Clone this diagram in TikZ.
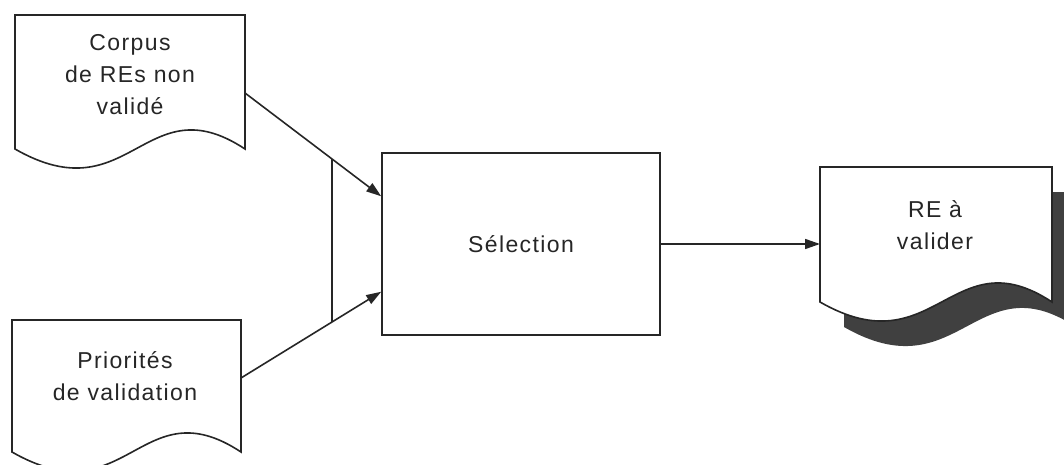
\documentclass[tikz,border=0pt]{standalone}
\usepackage{fontspec}
\newfontfamily\lsfont[LetterSpace=6]{Liberation Sans}
\usetikzlibrary{calc,arrows.meta}
\begin{document}
\begin{tikzpicture}[x=1pt,y=-1pt,
  line width=1.6pt,
  ink/.style={draw=black!85},
  docbox/.style={inner sep=0pt,outer sep=0pt,draw=none},
  doctext/.style={align=center,font=\lsfont\fontsize{23}{32}\selectfont,text=black!85,inner sep=0pt},
  docout/.style={insert path={(#1.north west) -- (#1.south west)
     .. controls ($(#1.south west)+(115,66)$) and ($(#1.south east)+(-100,-66)$) .. (#1.south east)
     -- (#1.north east) -- cycle}},
  flow/.style={ink,-{Triangle[length=15pt,width=10pt]}},
  procbox/.style={ink,minimum width=278pt,minimum height=182pt,inner sep=0pt,
     font=\lsfont\fontsize{23}{32}\selectfont,text=black!85}]
\useasboundingbox (0,0) rectangle (1064,465);
\clip (0,0) rectangle (1064,465);
% document boxes
\node[docbox,minimum width=230pt,minimum height=134pt] (d1) at (130,82) {};
\node[docbox,minimum width=229pt,minimum height=132pt] (d2) at (126.5,386) {};
\node[docbox,minimum width=232pt,minimum height=135pt] (d3) at (936,234.5) {};
\node[docbox,minimum width=232pt,minimum height=135pt] (d3s) at (960,259.5) {};
% shadow
\fill[black!75][docout=d3s];
\draw[ink,fill=white][docout=d1];
\draw[ink,fill=white][docout=d2];
\draw[ink,fill=white][docout=d3];
\node[doctext] (t1) at (130,75) {Corpus\\de REs non\\validé};
\node[doctext] (t2) at (125,376) {Priorités\\de validation};
\node[doctext] (t3) at (935,225) {RE à\\valider};
% process
\node[procbox] (sel) at (521,244) {Sélection};
% connectors
\coordinate (s1) at ($(d1.east)+(0,11)$);
\coordinate (e1) at ($(sel.north west)!0.24!(sel.south west)$);
\coordinate (s2) at ($(d2.east)+(0,-8)$);
\coordinate (e2) at ($(sel.north west)!0.76!(sel.south west)$);
\coordinate (j1) at ($(s1)!0.64!(e1)$);
\coordinate (j2) at ($(s2)!0.65!(e2)$);
\draw[flow] (s1) -- (e1);
\draw[flow] (s2) -- (e2);
\draw[ink] (j1) -- (j1 |- j2);
\draw[flow] (sel.east) -- (sel.east -| d3.west);
\end{tikzpicture}
\end{document}
